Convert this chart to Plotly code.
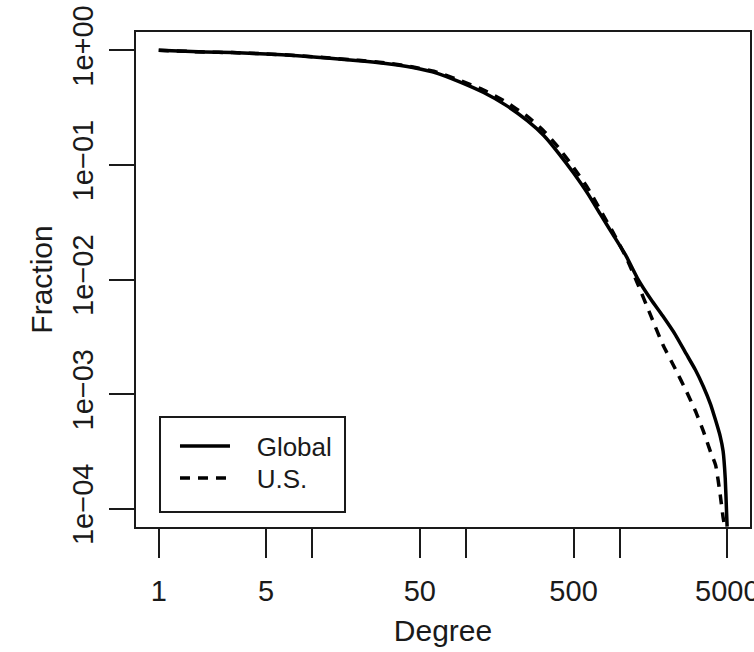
import plotly.graph_objects as go

# Complementary cumulative degree distributions
degree_global = [1, 2, 3, 5, 8, 13, 20, 30, 45, 65, 90, 130, 180, 250, 320, 400, 500,
                 620, 750, 900, 1100, 1300, 1600, 1900, 2300, 2700, 3100, 3500, 3900,
                 4200, 4500, 4700, 4850, 4950, 4990]
fraction_global = [1.0, 0.967, 0.955, 0.931, 0.898, 0.853, 0.813, 0.769, 0.708, 0.630,
                   0.533, 0.428, 0.334, 0.2435, 0.1807, 0.1263, 0.0849, 0.0559, 0.0368,
                   0.0248, 0.0160, 0.0103, 0.00665, 0.00482, 0.00329, 0.00225, 0.00163,
                   0.00116, 0.00081, 0.00059, 0.000428, 0.000317, 0.000185, 0.0000923,
                   0.0000698]

degree_us = [1, 2, 3, 5, 8, 13, 20, 30, 45, 65, 90, 130, 180, 250, 320, 400, 500,
             620, 750, 900, 1100, 1300, 1600, 1900, 2300, 2700, 3100, 3500, 3900,
             4200, 4500, 4700, 4850]
fraction_us = [1.0, 0.967, 0.955, 0.931, 0.900, 0.857, 0.818, 0.776, 0.716, 0.643,
               0.549, 0.450, 0.357, 0.265, 0.198, 0.141, 0.095, 0.0625, 0.0400,
               0.0260, 0.0156, 0.00933, 0.00474, 0.00272, 0.00165, 0.00107, 0.000716,
               0.000472, 0.000311, 0.000240, 0.000132, 0.0000836, 0.0000659]

x_tickvals = [1, 5, 10, 50, 100, 500, 1000, 5000]
x_ticktext = ["1", "5", "", "50", "", "500", "", "5000"]
y_tickvals = [1, 0.1, 0.01, 0.001, 0.0001]
y_ticktext = ["1e+00", "1e\u221201", "1e\u221202", "1e\u221203", "1e\u221204"]

FONT = "Liberation Sans, Arial, Helvetica, sans-serif"
INK = "#1a1a1a"
PAD = "\u00a0\u00a0\u00a0"

fig = go.Figure()
fig.add_trace(go.Scatter(
    x=degree_global, y=fraction_global, name=PAD + "Global", mode="lines",
    line=dict(color="black", width=3.5, shape="spline", smoothing=0.5),
    legend="legend",
))
fig.add_trace(go.Scatter(
    x=degree_us, y=fraction_us, name=PAD + "U.S.", mode="lines",
    line=dict(color="black", width=3.5, dash="10px,8px", shape="spline", smoothing=0.5),
    legend="legend2",
))

axis_common = dict(
    showgrid=False, zeroline=False, showline=True, mirror=True, automargin=False,
    linecolor=INK, linewidth=2, ticks="outside", tickwidth=2, tickcolor=INK,
    tickfont=dict(family=FONT, size=29, color=INK),
)

fig.update_xaxes(
    type="log", range=[-0.148, 3.847], tickmode="array",
    tickvals=x_tickvals, ticktext=x_ticktext, ticklen=29,
    ticklabelstandoff=8, ticklabeloverflow="allow",
    title=dict(text="Degree", font=dict(family=FONT, size=30, color=INK), standoff=14),
    **axis_common,
)
fig.update_yaxes(
    type="log", range=[-4.16, 0.16], tickmode="array",
    tickvals=y_tickvals, ticktext=y_ticktext, ticklen=25, tickangle=-90,
    ticklabelstandoff=4,
    title=dict(text="Fraction", font=dict(family=FONT, size=30, color=INK), standoff=6),
    **axis_common,
)

# legend frame
fig.add_shape(type="rect", xref="paper", yref="paper",
              x0=0.0391, x1=0.3404, y0=0.0303, y1=0.2222,
              line=dict(color=INK, width=2), fillcolor="rgba(0,0,0,0)")

legend_common = dict(
    xanchor="left", yanchor="middle",
    bgcolor="rgba(0,0,0,0)", borderwidth=0,
    font=dict(family=FONT, size=26, color=INK),
    itemwidth=50,
)

fig.update_layout(
    width=754, height=652,
    margin=dict(l=136, r=4, t=32, b=125),
    paper_bgcolor="white", plot_bgcolor="white",
    font=dict(family=FONT, color=INK),
    showlegend=True,
    legend=dict(x=0.0635, y=0.1636, **legend_common),
    legend2=dict(x=0.0635, y=0.0989, **legend_common),
)

fig.write_html("out.html")
